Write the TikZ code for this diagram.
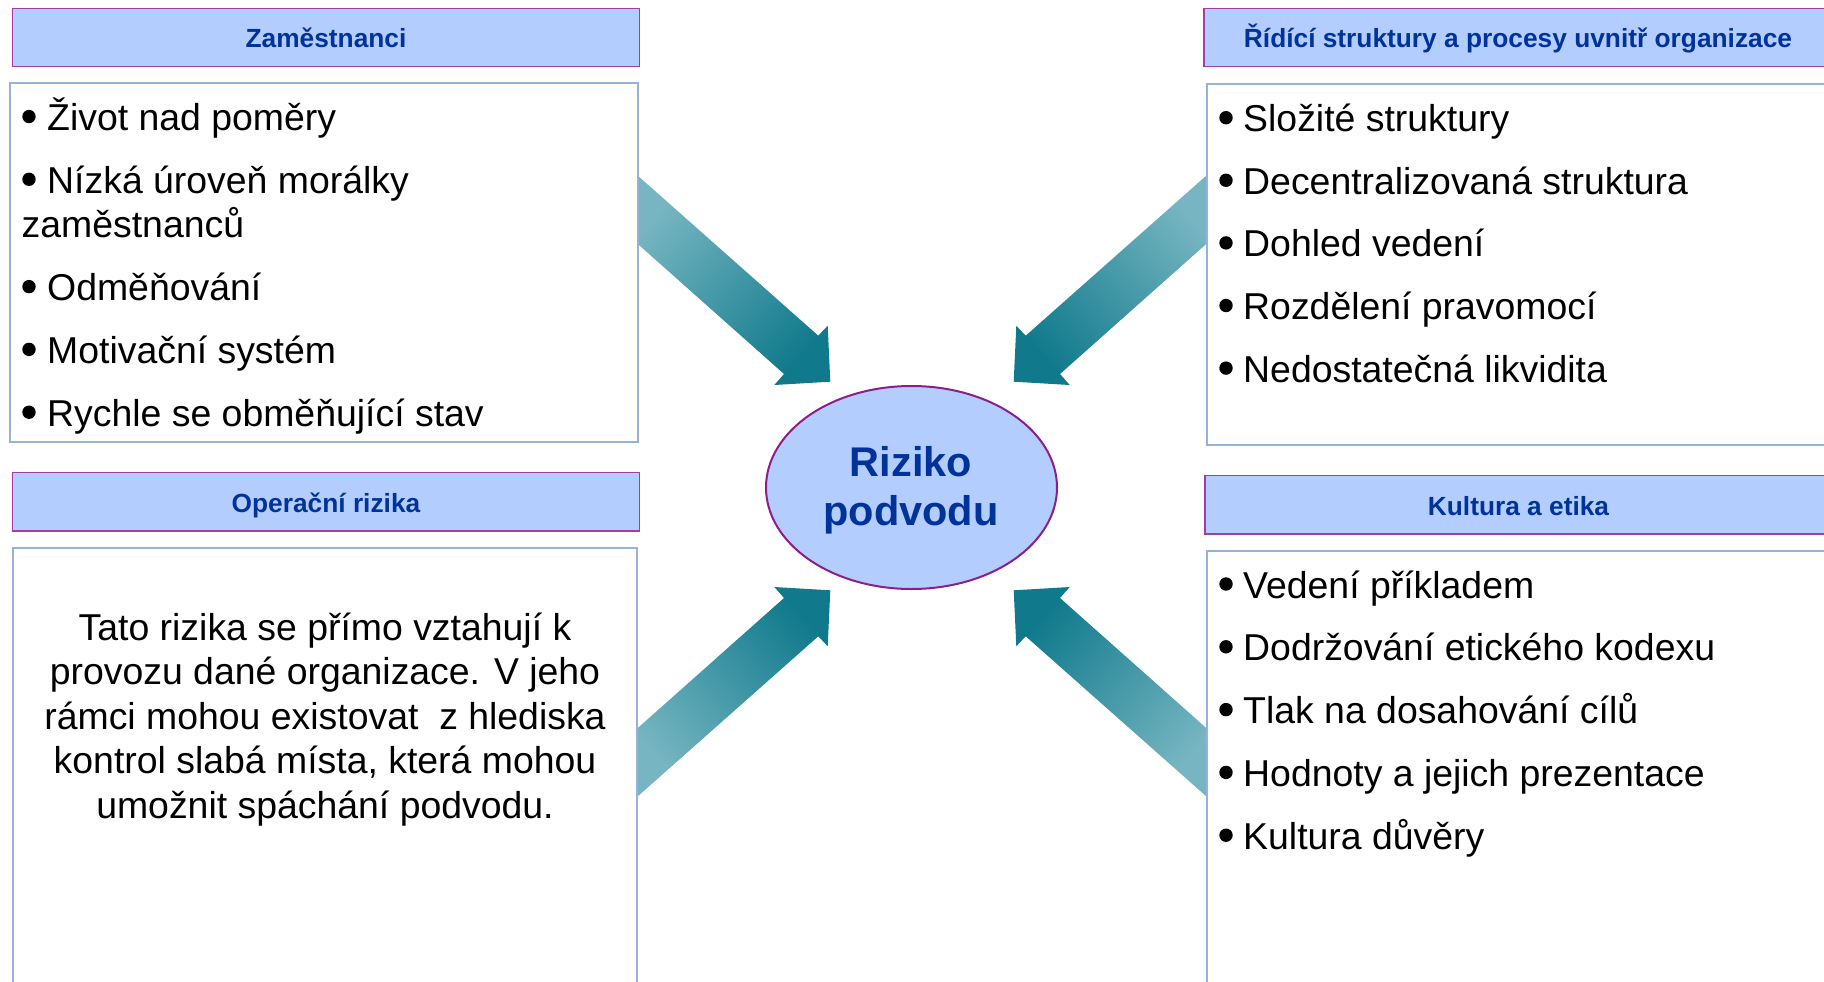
\documentclass[tikz,border=0pt]{standalone}
\usepackage{fontspec}
\setmainfont{Liberation Sans}
\usetikzlibrary{shapes.geometric}
\definecolor{hdrfill}{RGB}{179,205,255}
\definecolor{hdrline}{RGB}{165,60,165}
\definecolor{boxline}{RGB}{150,178,214}
\definecolor{titleblue}{RGB}{0,51,153}
\definecolor{arrlight}{RGB}{118,181,193}
\definecolor{arrdark}{RGB}{16,122,140}
\definecolor{ellline}{RGB}{140,30,140}
\tikzset{
  hdrbox/.style={rectangle, fill=hdrfill, draw=hdrline, line width=1.5pt, inner sep=0pt,
    text=titleblue, font=\fontsize{26.3}{30}\selectfont\bfseries, text height=20.6pt, text depth=0pt},
  panel/.style={rectangle, fill=white, draw=boxline, line width=2pt, inner sep=0pt},
  itemtext/.style={anchor=base west, inner sep=0pt, font=\fontsize{37.4}{44.5}\selectfont, align=left},
  paratext/.style={anchor=base, inner sep=0pt, font=\fontsize{37.4}{44.5}\selectfont, align=center},
  bigarrow/.style={top color=arrlight, bottom color=arrdark},
  bul/.style={fill=black},
}
\begin{document}
\begin{tikzpicture}[x=1pt,y=-1pt]
\useasboundingbox (0,0) rectangle (1824,982);
\clip (0,0) rectangle (1824,982);

% arrows
\path[bigarrow, shading angle=48.3]
  (637,175) -- (818.3,335.7) -- (827.7,325.7) -- (830.3,381.7) -- (774.3,385) -- (784,374) -- (637,243.3) -- cycle;
\path[bigarrow, shading angle=131.7]
  (637,797) -- (818.3,636.3) -- (827.7,646.3) -- (830.3,590.3) -- (774.3,587) -- (784,598) -- (637,728.7) -- cycle;
\path[bigarrow, shading angle=-48.3]
  (1207,175) -- (1025.7,335.7) -- (1016.3,325.7) -- (1013.7,381.7) -- (1069.7,385) -- (1060,374) -- (1207,243.3) -- cycle;
\path[bigarrow, shading angle=-131.7]
  (1207,797) -- (1025.7,636.3) -- (1016.3,646.3) -- (1013.7,590.3) -- (1069.7,587) -- (1060,598) -- (1207,728.7) -- cycle;

% headers
\node[hdrbox, minimum width=627pt, minimum height=58pt] (h1) at (326,37.5) {Zaměstnanci};
\node[hdrbox, minimum width=628pt, minimum height=58pt] (h2) at (1518,37.5) {Řídící struktury a procesy uvnitř organizace};
\node[hdrbox, minimum width=627pt, minimum height=58.5pt] (h3) at (326,501.75) {Operační rizika};
\node[hdrbox, minimum width=627pt, minimum height=58.5pt] (h4) at (1518.5,504.75) {Kultura a etika};

% panels
\node[panel, minimum width=627.5pt, minimum height=358.5pt] (p1) at (323.75,262.75) {};
\node[panel, minimum width=633.5pt, minimum height=361pt] (p2) at (1523.25,264.5) {};
\node[panel, minimum width=624pt, minimum height=452pt] (p3) at (324.5,774) {};
\node[panel, minimum width=633.5pt, minimum height=449pt] (p4) at (1523.25,775.5) {};

% centre ellipse
\node[ellipse, fill=hdrfill, draw=ellline, line width=2pt, minimum width=291pt, minimum height=203pt, inner sep=0pt] (risk) at (911.5,487.5) {};
\node[anchor=base, inner sep=0pt, align=center, text=titleblue, font=\fontsize{41.5}{49}\selectfont\bfseries] (risktext) at (911,525) {Riziko\\podvodu};

% left top items
\foreach \b in {130.5,193.3,300.6,363.4,426.2} \fill[bul] (29,\b-14) circle (6.7);
\node[itemtext] (a1) at (47,130.5) {Život nad poměry};
\node[itemtext] (a2) at (21.5,237.8) {\hspace*{25.5pt}Nízká úroveň morálky\\zaměstnanců};
\node[itemtext] (a3) at (47,300.6) {Odměňování};
\node[itemtext] (a4) at (47,363.4) {Motivační systém};
\node[itemtext] (a5) at (47,426.2) {Rychle se obměňující stav};

% right top items
\foreach \b in {131.7,194.3,256.9,319.5,382.1} \fill[bul] (1226,\b-14) circle (6.7);
\node[itemtext] (b1) at (1243,131.7) {Složité struktury};
\node[itemtext] (b2) at (1243,194.3) {Decentralizovaná struktura};
\node[itemtext] (b3) at (1243,256.9) {Dohled vedení};
\node[itemtext] (b4) at (1243,319.5) {Rozdělení pravomocí};
\node[itemtext] (b5) at (1243,382.1) {Nedostatečná likvidita};

% operational risks paragraph
\node[paratext] (c1) at (325,818) {Tato rizika se přímo vztahují k\\provozu dané organizace. V jeho\\rámci mohou existovat~ z hlediska\\kontrol slabá místa, která mohou\\umožnit spáchání podvodu.};

% culture items
\foreach \b in {598,660.8,723.6,786.4,849.2} \fill[bul] (1226,\b-14) circle (6.7);
\node[itemtext] (d1) at (1243,598) {Vedení příkladem};
\node[itemtext] (d2) at (1243,660.8) {Dodržování etického kodexu};
\node[itemtext] (d3) at (1243,723.6) {Tlak na dosahování cílů};
\node[itemtext] (d4) at (1243,786.4) {Hodnoty a jejich prezentace};
\node[itemtext] (d5) at (1243,849.2) {Kultura důvěry};
\end{tikzpicture}
\end{document}
